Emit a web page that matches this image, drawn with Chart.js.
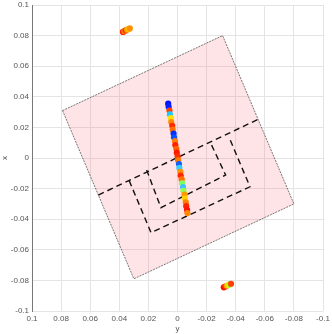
<!DOCTYPE html>
<html>
<head>
<meta charset="utf-8">
<script src="https://cdn.jsdelivr.net/npm/chart.js@4"></script>
<style>
  html, body { margin: 0; padding: 0; background: #fff; }
  #wrap { width: 332px; height: 334px; }
</style>
</head>
<body>
<div id="wrap"><canvas id="chart"></canvas></div>
<script>
// horizontal axis is "y" (reversed), vertical axis is "x"
const rectY = [0.079, -0.031, -0.080, 0.030, 0.079];
const rectX = [0.031, 0.080, -0.030, -0.079, 0.031];

const lineY = [0.0544, -0.0555];
const lineX = [-0.0242, 0.0253];

const outerY = [0.0332, 0.0182, -0.0498, -0.0353];
const outerX = [-0.0148, -0.0488, -0.0188, 0.0139];

const innerY = [0.0212, 0.0114, -0.0331, -0.0223];
const innerX = [-0.0078, -0.0325, -0.0111, 0.0107];

// measured points along the central streak and the two far clusters
const ptY = [
  0.0064, 0.0061, 0.0055, 0.0052, 0.0045, 0.0043, 0.0036, 0.0033, 0.0027, 0.0024,
  0.0017, 0.0015, 0.0008, 0.0005, -0.0001, -0.0004, -0.0010, -0.0013, -0.0020, -0.0022,
  -0.0029, -0.0032, -0.0038, -0.0041, -0.0048, -0.0050, -0.0057, -0.0060, -0.0066, -0.0068,
  0.0375, 0.0366, 0.0356, 0.0346, 0.0336, 0.0328,
  -0.0318, -0.0328, -0.0338, -0.0348, -0.0358, -0.0368
];
const ptX = [
  0.0355, 0.0335, 0.0310, 0.0285, 0.0260, 0.0235, 0.0210, 0.0185, 0.0160, 0.0135,
  0.0110, 0.0085, 0.0060, 0.0035, 0.0010, -0.0015, -0.0040, -0.0065, -0.0090, -0.0115,
  -0.0140, -0.0165, -0.0190, -0.0215, -0.0240, -0.0265, -0.0290, -0.0315, -0.0340, -0.0360,
  0.0824, 0.0829, 0.0834, 0.0839, 0.0843, 0.0847,
  -0.0845, -0.0840, -0.0835, -0.0830, -0.0826, -0.0822
];
const ptColor = [
  '#0014ff', '#0020ff', '#ff4000', '#20c8ff', '#ffe000', '#ff8a00', '#ff2a00', '#ff7000', '#0030ff', '#0050ff',
  '#ff8000', '#ff2000', '#ff6000', '#ff1800', '#ff3000', '#ff7800', '#1060ff', '#30d0ff', '#ff9000', '#ff2800',
  '#ff7000', '#80ff60', '#40c0ff', '#90ff50', '#ff9a00', '#ffd000', '#ff8000', '#ff2000', '#ff1000', '#ff8800',
  '#ff2000', '#ff8000', '#ff3000', '#ffa000', '#ffc000', '#ff9000',
  '#ff1000', '#ff2000', '#ffa000', '#ffe000', '#90ff40', '#ff4000'
];

const xTicks = [0.1, 0.08, 0.06, 0.04, 0.02, 0, -0.02, -0.04, -0.06, -0.08, -0.1];

const pts = (ys, xs) => ys.map((v, i) => ({ x: v, y: xs[i] }));
const fmt = v => String(+(+v).toFixed(2));

const dashed = {
  showLine: true,
  borderColor: '#111',
  borderWidth: 1.4,
  borderDash: [6, 4],
  pointRadius: 0,
  fill: false,
  order: 2
};

new Chart(document.getElementById('chart'), {
  type: 'scatter',
  data: {
    datasets: [
      {
        data: pts(ptY, ptX),
        backgroundColor: ptColor,
        borderWidth: 0,
        pointRadius: 3.1,
        order: 1
      },
      Object.assign({ data: pts(lineY, lineX) }, dashed),
      Object.assign({ data: pts(outerY, outerX) }, dashed),
      Object.assign({ data: pts(innerY, innerX) }, dashed),
      {
        data: pts(rectY, rectX),
        showLine: true,
        borderColor: '#555',
        borderWidth: 0.8,
        borderDash: [2, 1],
        backgroundColor: 'rgba(250,120,130,0.2)',
        fill: 'shape',
        pointRadius: 0,
        order: 3
      }
    ]
  },
  options: {
    responsive: true,
    maintainAspectRatio: false,
    animation: false,
    layout: { padding: { top: 5, right: 9, left: 0, bottom: 0 } },
    plugins: { legend: { display: false }, tooltip: { enabled: false } },
    scales: {
      x: {
        type: 'linear',
        reverse: true,
        min: -0.1,
        max: 0.1,
        afterFit: s => { s.height = 23; s.paddingLeft = 0; s.paddingRight = 0; },
        afterBuildTicks: s => { s.ticks = xTicks.map(v => ({ value: v })); },
        ticks: { callback: fmt, color: '#555', font: { family: 'Liberation Sans', size: 8 }, padding: 3, maxRotation: 0, autoSkip: false },
        grid: { color: '#e4e4e4', drawTicks: false },
        border: { display: false },
        title: { display: true, text: 'y', color: '#555', font: { family: 'Liberation Sans', size: 8 }, padding: { top: 0, bottom: 0 } }
      },
      y: {
        type: 'linear',
        min: -0.1,
        max: 0.1,
        afterFit: s => { s.width = 32; s.paddingTop = 0; s.paddingBottom = 0; },
        afterBuildTicks: s => { s.ticks = xTicks.map(v => ({ value: v })); },
        ticks: { callback: fmt, color: '#555', font: { family: 'Liberation Sans', size: 8 }, padding: 3, autoSkip: false },
        grid: { color: '#e4e4e4', drawTicks: false },
        border: { display: true, color: '#777' },
        title: { display: true, text: 'x', color: '#555', font: { family: 'Liberation Sans', size: 8 }, padding: { top: 0, bottom: 0 } }
      }
    }
  }
});
</script>
</body>
</html>
